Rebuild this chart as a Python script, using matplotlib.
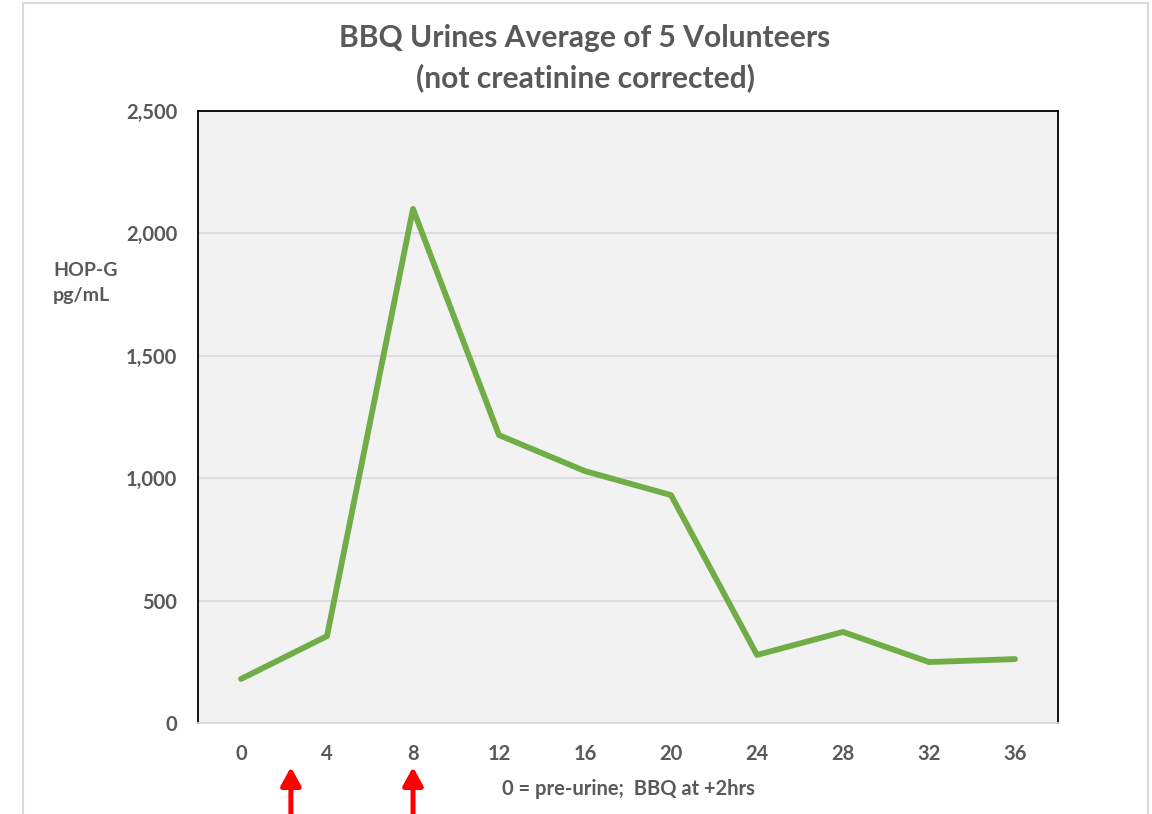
import matplotlib
matplotlib.use("Agg")
import matplotlib.pyplot as plt
from matplotlib.patches import Rectangle

hours = [0, 4, 8, 12, 16, 20, 24, 28, 32, 36]
hopg = [180, 355, 2100, 1176, 1029, 931, 278, 372, 249, 261]
yticks = [0, 500, 1000, 1500, 2000, 2500]
arrow_pos = [0.58, 2.0]   # category positions of the red arrows (+2 h and 8 h)

plt.rcParams['font.family'] = ['Lato', 'DejaVu Sans']
gray = '#595959'

fig = plt.figure(figsize=(11.52, 8.14), dpi=100)
fig.patch.set_facecolor('white')
# outer chart frame
fig.add_artist(Rectangle((23/1152, -0.05), (1148-23)/1152, 1.05 - 3/814,
                         transform=fig.transFigure, fill=False,
                         edgecolor='#D9D9D9', linewidth=1.5))

ax = fig.add_axes([198/1152, 1-723/814, 860/1152, 612/814])
ax.set_facecolor('#F2F2F2')
x = list(range(len(hours)))
ax.plot(x, hopg, color='#70AD47', linewidth=4.2, solid_capstyle='round',
        solid_joinstyle='round', zorder=3)
ax.set_xlim(-0.5, len(hours) - 0.5)
ax.set_ylim(0, 2500)
ax.set_yticks(yticks)
ax.set_yticklabels([f"{v:,}" for v in yticks])
ax.set_xticks(x)
ax.set_xticklabels([str(h) for h in hours])
ax.tick_params(axis='both', length=0, labelsize=14.5, labelcolor=gray)
ax.tick_params(axis='y', pad=15)
ax.tick_params(axis='x', pad=15)
for lbl in ax.get_xticklabels() + ax.get_yticklabels():
    lbl.set_fontweight('bold')
ax.grid(axis='y', color='#D9D9D9', linewidth=1.2, zorder=1)
ax.set_axisbelow(True)
for s in ['left', 'top', 'right']:
    ax.spines[s].set_color('black')
    ax.spines[s].set_linewidth(1.3)
ax.spines['bottom'].set_color('#D9D9D9')
ax.spines['bottom'].set_linewidth(1.3)

ax.set_xlabel("0 = pre-urine;  BBQ at +2hrs", fontsize=14.5, fontweight='bold',
              color=gray, labelpad=11)

fig.text(585/1152, 1-38/814, "BBQ Urines Average of 5 Volunteers", ha='center',
         va='center', fontsize=21.6, fontweight='bold', color=gray)
fig.text(585/1152, 1-78/814, "(not creatinine corrected)", ha='center',
         va='center', fontsize=21.6, fontweight='bold', color=gray)
fig.text(53/1152, 1-283/814, "HOP-G\npg/mL", ha='left', va='center',
         fontsize=14, fontweight='bold', color=gray, linespacing=1.55)

for p in arrow_pos:
    ax.annotate("", xy=(p, 1-767/814), xycoords=('data', 'figure fraction'),
                xytext=(p, -0.01), textcoords=('data', 'figure fraction'),
                arrowprops=dict(arrowstyle='-|>,head_width=0.6,head_length=1.1',
                                color='#FF0000', linewidth=3.6, shrinkA=0, shrinkB=0),
                annotation_clip=False)

fig.savefig("out.png", dpi=100)
